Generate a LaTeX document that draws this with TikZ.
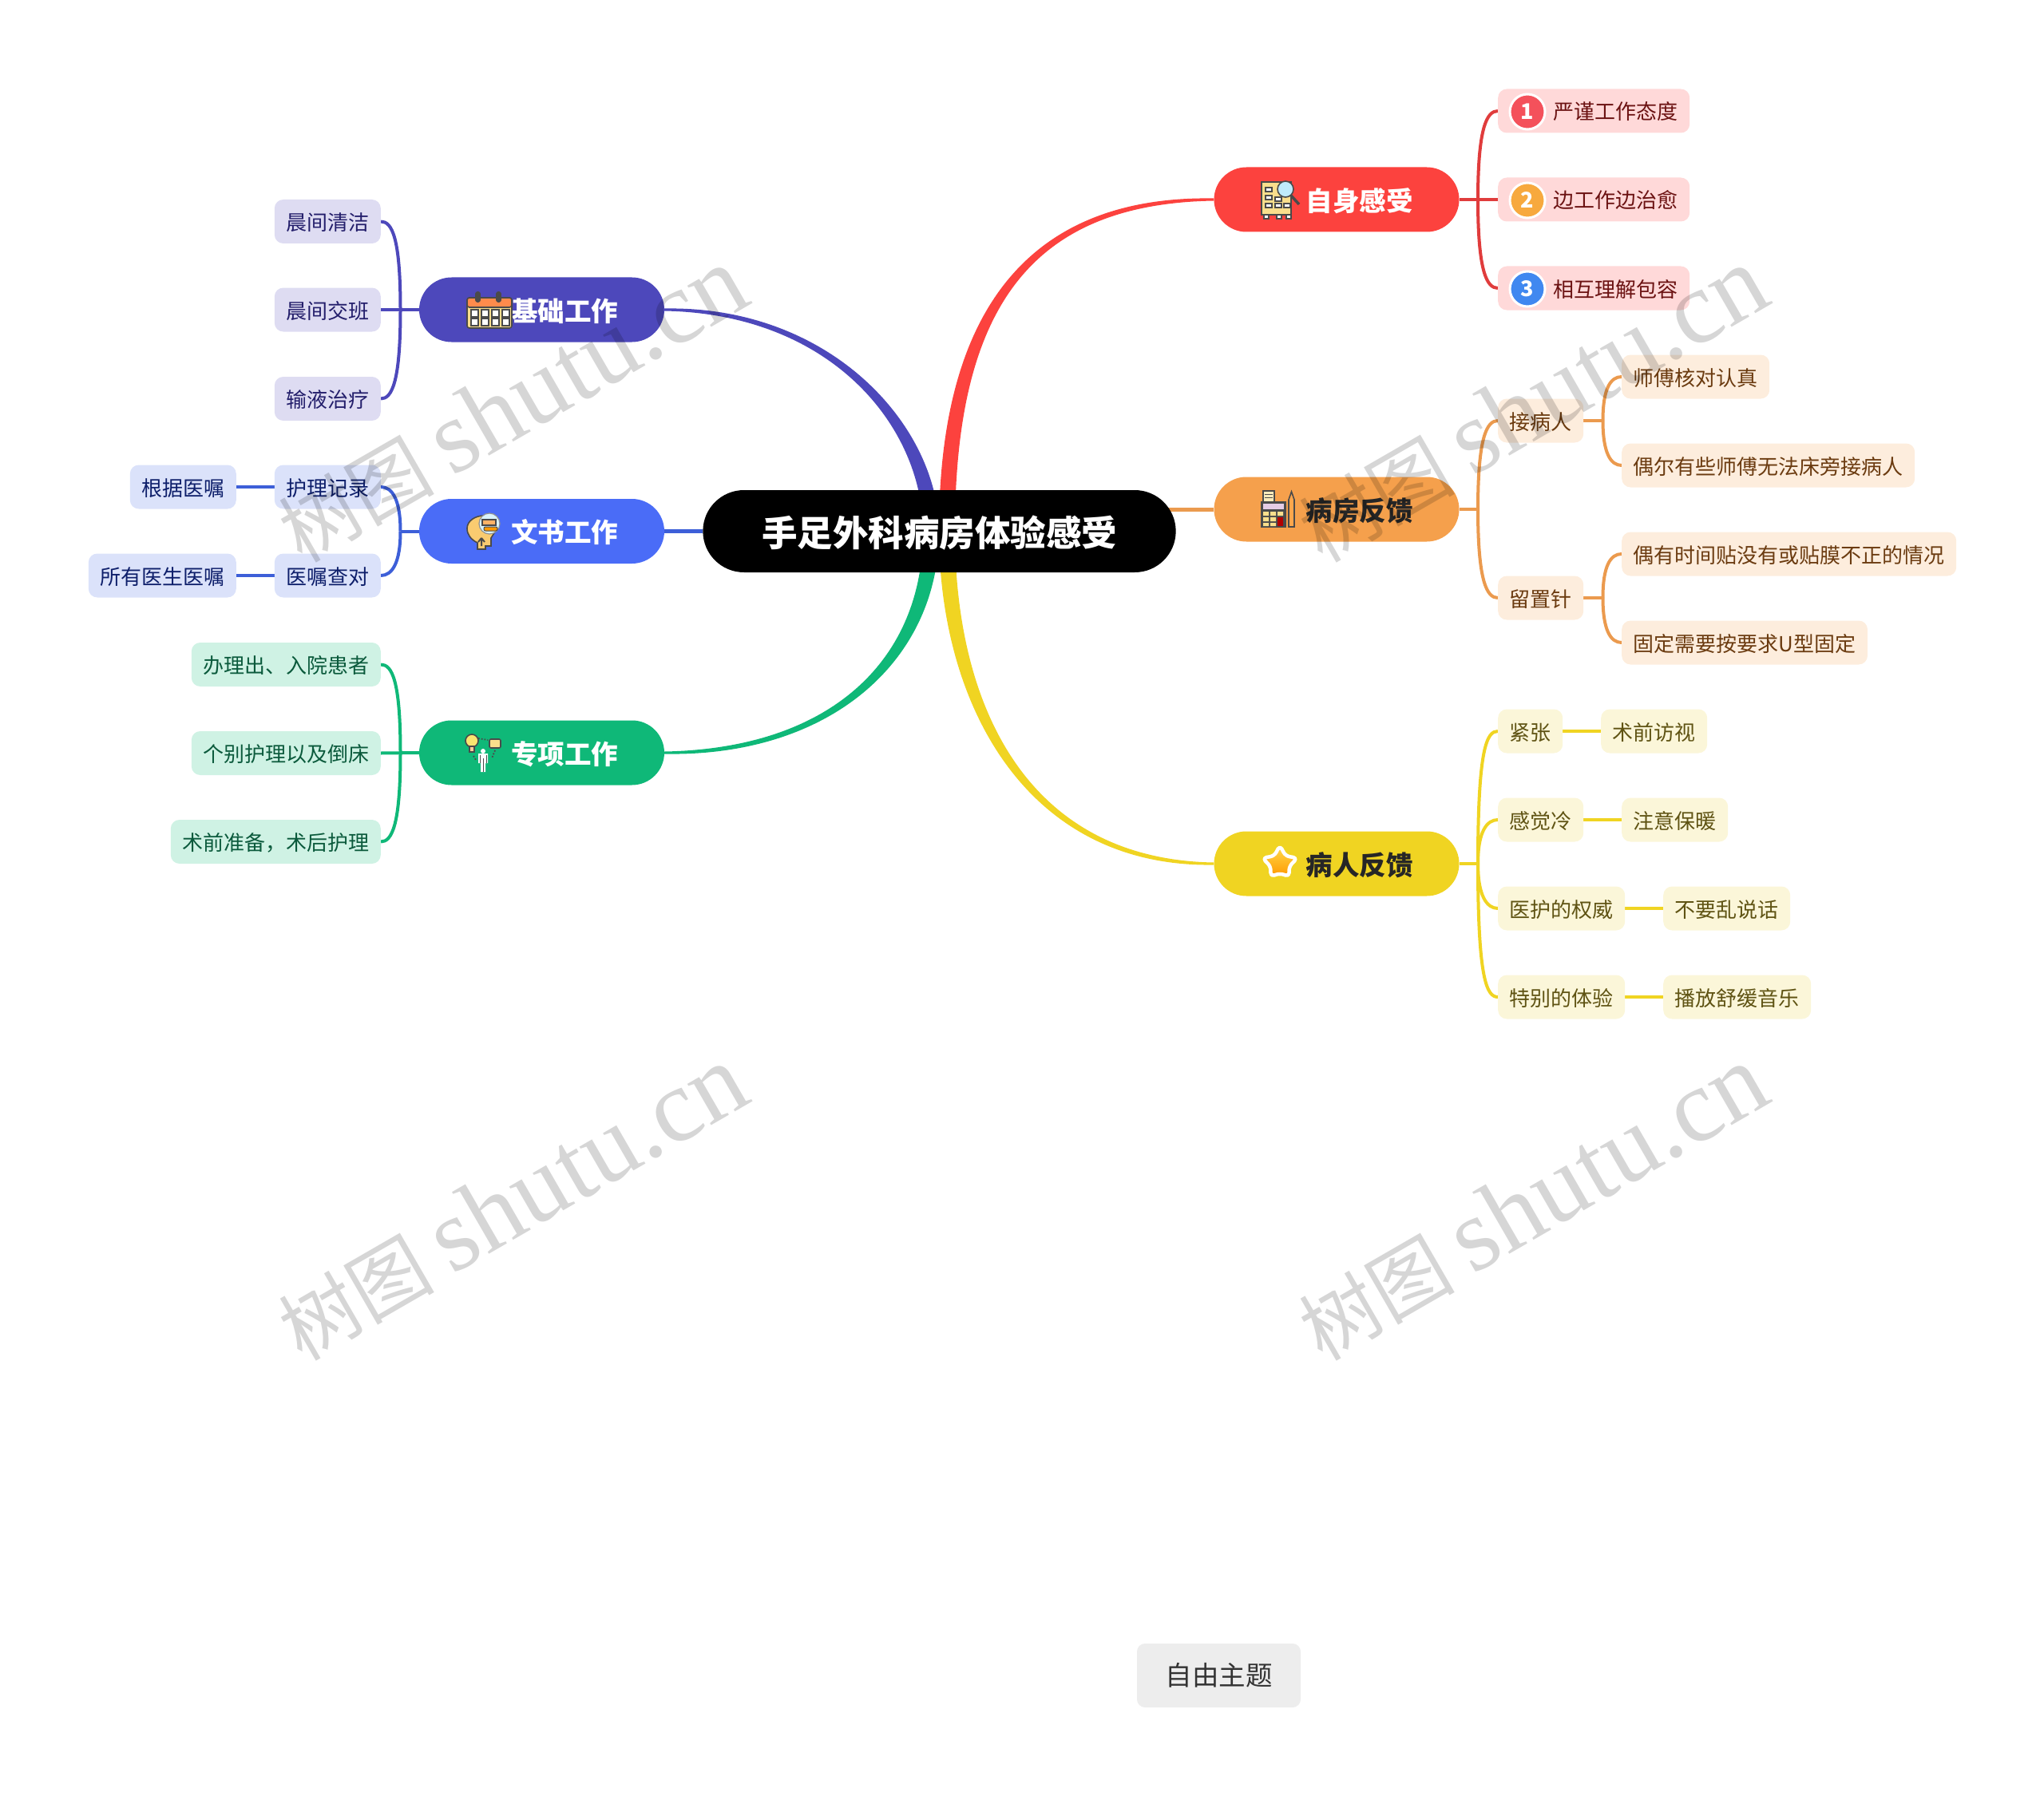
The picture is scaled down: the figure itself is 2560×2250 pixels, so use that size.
\documentclass[tikz,border=0pt]{standalone}
\usepackage{fontspec}
\setmainfont{Noto Sans CJK SC}
\newfontfamily\wmlatin{Liberation Serif}
\usepackage{xcolor}
\definecolor{redmain}{HTML}{FC423E}
\definecolor{redline}{HTML}{E03C3C}
\definecolor{redsub}{HTML}{FFD9D9}
\definecolor{redtext}{HTML}{6B1212}
\definecolor{orgmain}{HTML}{F5A04C}
\definecolor{orgline}{HTML}{EB9A4E}
\definecolor{orgsub}{HTML}{FDEDDD}
\definecolor{orgtext}{HTML}{6B3B10}
\definecolor{yelmain}{HTML}{F0D422}
\definecolor{yelsub}{HTML}{FBF6D9}
\definecolor{yeltext}{HTML}{5F5313}
\definecolor{vltmain}{HTML}{4D48BB}
\definecolor{vltsub}{HTML}{DEDCF2}
\definecolor{vlttext}{HTML}{231E6B}
\definecolor{blumain}{HTML}{4A6CF7}
\definecolor{bluline}{HTML}{3D5FD8}
\definecolor{blusub}{HTML}{DBE2FA}
\definecolor{blutext}{HTML}{0E1F6B}
\definecolor{grnmain}{HTML}{0FB878}
\definecolor{grnsub}{HTML}{CFF2E4}
\definecolor{grntext}{HTML}{0B5A3C}
\definecolor{icondark}{HTML}{4A4A4A}
\definecolor{iconyel}{HTML}{F9DE8C}
\definecolor{numred}{HTML}{F4515B}
\definecolor{numorg}{HTML}{F7A93E}
\definecolor{numblu}{HTML}{4088F0}
\usetikzlibrary{shapes.misc, calc, backgrounds}
\tikzset{
  rootnode/.style={
    rounded rectangle, fill=black, text=white,
    minimum width=599pt, minimum height=103pt,
    text height=37pt, text depth=0pt,
    font=\fontsize{44.5}{50}\selectfont\bfseries
  },
  mainnode/.style={
    rounded rectangle, inner sep=0pt,
    minimum width=307pt, minimum height=81pt,
    text height=28.5pt, text depth=0pt,
    font=\fontsize{33.5}{38}\selectfont\bfseries
  },
  subnode/.style={
    rectangle, rounded corners=11pt, inner xsep=14.5pt, inner ysep=0pt,
    minimum height=55pt, text height=22pt, text depth=0pt,
    font=\fontsize{26}{30}\selectfont
  },
  numdot/.style={
    circle, draw=white, line width=3pt, inner sep=0pt, minimum size=44pt,
    text=white, font=\fontsize{27}{30}\selectfont\bfseries
  },
  freenode/.style={
    rectangle, rounded corners=10pt, fill=black!7, text=black!80,
    minimum width=205pt, minimum height=80pt,
    font=\fontsize{33.5}{38}\selectfont
  },
  watermark/.style={
    rotate=30, text=black, text opacity=0.16, inner sep=0pt,
    font=\fontsize{98}{130}\selectfont
  },
  branch/.style={line width=4pt},
  iconline/.style={draw=icondark, line width=1.6pt},
  calicon/.pic={
    \draw[iconline, fill=iconyel, rounded corners=3pt] (-28,-16) rectangle (28,22);
    \draw[iconline, fill=orange!70!red!70, rounded corners=3pt] (-28,-16) rectangle (28,-4);
    \draw[iconline, fill=icondark, rounded corners=2pt] (-17,-23) rectangle (-12,-11) (9,-23) rectangle (14,-11);
    \draw[iconline, fill=white, line width=1.2pt]
      (-23,-1) rectangle +(9,9) (-10,-1) rectangle +(9,9) (3,-1) rectangle +(9,9) (16,-1) rectangle +(9,9)
      (-23,10) rectangle +(9,9) (-10,10) rectangle +(9,9) (3,10) rectangle +(9,9) (16,10) rectangle +(9,9);
  },
  bldicon/.pic={
    \draw[iconline, fill=iconyel] (-23,-22) rectangle (14,19);
    \draw[iconline, fill=white, line width=1.2pt]
      (-18,-15) rectangle +(8,5) (-18,-5) rectangle +(8,5) (-18,5) rectangle +(8,5)
      (-6,5) rectangle +(8,5) (5,5) rectangle +(8,5) (-6,-3) rectangle +(8,5);
    \draw[iconline, fill=white, line width=1.2pt]
      (-20,19) rectangle +(6,5) (-4,19) rectangle +(6,5) (8,19) rectangle +(6,5);
    \draw[icondark, line width=3.5pt] (14,-5) -- (24,6);
    \draw[iconline, fill=cyan!25] (7,-13) circle (10pt);
  },
  calcicon/.pic={
    \draw[iconline, fill=iconyel!60] (-19,-23) rectangle (-5,-9);
    \draw[icondark, line width=1pt] (-17,-19) -- (-7,-19) (-17,-15) -- (-7,-15);
    \draw[iconline, fill=icondark] (-21,-9) rectangle (9,22);
    \fill[violet!20] (-19,-7) rectangle (7,0);
    \fill[iconyel] (-19,3) rectangle +(7,5) (-10,3) rectangle +(7,5) (-1,3) rectangle +(7,5)
      (-19,10) rectangle +(7,5) (-10,10) rectangle +(7,5)
      (-19,17) rectangle +(7,4) (-10,17) rectangle +(7,4);
    \fill[red!70!black] (-1,10) rectangle (6,21);
    \draw[iconline, fill=orange!70] (13,-12) -- (16.5,-22) -- (20,-12) -- (20,22) -- (13,22) -- cycle;
  },
  headicon/.pic={
    \draw[iconline, fill=iconyel!80!orange] (-8,22) -- (-8,14) .. controls (-16,10) and (-21,4) .. (-21,-4)
      .. controls (-21,-14) and (-10,-20) .. (0,-20) .. controls (10,-20) and (14,-10) .. (14,0)
      -- (9,8) -- (9,18) -- (2,18) -- (2,22) -- cycle;
    \draw[icondark, line width=2pt] (-3,18) -- (-3,9) (-7,13) -- (-3,8) (1,13) -- (-3,8);
    \draw[draw=icondark!60, line width=1.2pt, fill=cyan!15] (7,-10) circle (13pt);
    \draw[iconline, fill=orange!60, line width=1.1pt] (-2,-15) rectangle (15,-8);
    \draw[iconline, fill=orange!80!yellow, line width=1pt, rounded corners=2pt] (0,-6) rectangle (17,-1);
  },
  bulbicon/.pic={
    \draw[iconline, fill=iconyel!80!yellow] (-15,-15) circle (8pt);
    \draw[iconline, fill=white!60!orange, line width=1.2pt] (-18,-8) rectangle (-12,-1);
    \draw[iconline, fill=iconyel, rounded corners=2pt] (7,-17) rectangle (21,-6);
    \draw[icondark, dotted, line width=1.8pt] (-7,-18) -- (5,-16) (14,-3) -- (10,7) (-13,4) -- (-10,9);
    \fill[white] (-1,-2) circle (3pt) (-7,1) rectangle (5,13) (-4,13) rectangle (2,24);
    \draw[icondark, line width=1pt] (-1,7) -- (-1,24) (-5,3) -- (-5,13) (3,3) -- (3,13);
  },
  starshape/.pic={
    \draw[draw=white, line width=4.5pt, line join=round, rounded corners=5pt, top color=yellow!60!orange!70, bottom color=orange!80!yellow]
      (-90:23) -- (-54:12) -- (-18:23) -- (18:12) -- (54:20) -- (90:12) -- (126:20) -- (162:12) -- (198:23) -- (234:12) -- cycle;
  },
}
\newcommand{\taper}[7]{
  \fill[#1] ($(#2)+(0,#6)$) .. controls +($(#4)+(0,2.5*#6)$) and +(#5) .. ($(#3)+(#7,0)$)
    -- ($(#3)+(-#7,0)$) .. controls +(#5) and +($(#4)+(0,-2.5*#6)$) .. ($(#2)+(0,-#6)$) -- cycle;
}
\newcommand{\hook}[5]{
  \draw[branch, #1] (#2) .. controls +(0,#4) and +(#5,0) .. (#3);
}
\begin{document}
\begin{tikzpicture}[x=1pt,y=-1pt]
  \useasboundingbox (0,0) rectangle (2560,2250);
  \node (root) [rootnode] at (1176.5,665.5) {手足外科病房体验感受};
  \coordinate (rootL) at (1166,665.5);
  \coordinate (rootR) at (1186,665.5);

  % left side
  \node (jichu)  [mainnode, fill=vltmain, text=white] at (678.5,388) {\hspace*{57pt}基础工作};
  \node (wenshu) [mainnode, fill=blumain, text=white] at (678.5,665.5) {\hspace*{57pt}文书工作};
  \node (zhuan)  [mainnode, fill=grnmain, text=white] at (678.5,943) {\hspace*{57pt}专项工作};
  \node (qing) [subnode, fill=vltsub, text=vlttext, anchor=east] at (477,277.5) {晨间清洁};
  \node (jiao) [subnode, fill=vltsub, text=vlttext, anchor=east] at (477,388) {晨间交班};
  \node (shu)  [subnode, fill=vltsub, text=vlttext, anchor=east] at (477,499.5) {输液治疗};
  \node (hul)  [subnode, fill=blusub, text=blutext, anchor=east] at (477,610) {护理记录};
  \node (yiz)  [subnode, fill=blusub, text=blutext, anchor=east] at (477,721) {医嘱查对};
  \node (genj) [subnode, fill=blusub, text=blutext, anchor=east] at (296,610) {根据医嘱};
  \node (suoy) [subnode, fill=blusub, text=blutext, anchor=east] at (296,721) {所有医生医嘱};
  \node (banl) [subnode, fill=grnsub, text=grntext, anchor=east] at (477,832.5) {办理出、入院患者};
  \node (gebi) [subnode, fill=grnsub, text=grntext, anchor=east] at (477,943.5) {个别护理以及倒床};
  \node (shuq) [subnode, fill=grnsub, text=grntext, anchor=east] at (477,1054.5) {术前准备，术后护理};

  % right side
  \node (zishen) [mainnode, fill=redmain, text=white] at (1674,250) {\hspace*{57pt}自身感受};
  \node (bfang)  [mainnode, fill=orgmain, text=black!85] at (1674,638) {\hspace*{57pt}病房反馈};
  \node (bren)   [mainnode, fill=yelmain, text=black!85] at (1674,1082) {\hspace*{57pt}病人反馈};
  \node (yanj)  [subnode, fill=redsub, text=redtext, anchor=west] at (1876,139) {\hspace*{55pt}严谨工作态度};
  \node (bian)  [subnode, fill=redsub, text=redtext, anchor=west] at (1876,250) {\hspace*{55pt}边工作边治愈};
  \node (xiang) [subnode, fill=redsub, text=redtext, anchor=west] at (1876,361) {\hspace*{55pt}相互理解包容};
  \node (num1)  [numdot, fill=numred] at (1913,140) {1};
  \node (num2)  [numdot, fill=numorg] at (1913,251) {2};
  \node (num3)  [numdot, fill=numblu] at (1913,362) {3};
  \node (jie)   [subnode, fill=orgsub, text=orgtext, anchor=west] at (1876,527) {接病人};
  \node (shif)  [subnode, fill=orgsub, text=orgtext, anchor=west] at (2031,472) {师傅核对认真};
  \node (ouer)  [subnode, fill=orgsub, text=orgtext, anchor=west] at (2031,583) {偶尔有些师傅无法床旁接病人};
  \node (liu)   [subnode, fill=orgsub, text=orgtext, anchor=west] at (1876,749) {留置针};
  \node (ouyou) [subnode, fill=orgsub, text=orgtext, anchor=west] at (2031,694) {偶有时间贴没有或贴膜不正的情况};
  \node (guding)[subnode, fill=orgsub, text=orgtext, anchor=west] at (2031,805) {固定需要按要求U型固定};
  \node (jinz)  [subnode, fill=yelsub, text=yeltext, anchor=west] at (1876,916) {紧张};
  \node (fangs) [subnode, fill=yelsub, text=yeltext, anchor=west] at (2005,916) {术前访视};
  \node (leng)  [subnode, fill=yelsub, text=yeltext, anchor=west] at (1876,1027) {感觉冷};
  \node (baon)  [subnode, fill=yelsub, text=yeltext, anchor=west] at (2031,1027) {注意保暖};
  \node (quanw) [subnode, fill=yelsub, text=yeltext, anchor=west] at (1876,1138) {医护的权威};
  \node (luan)  [subnode, fill=yelsub, text=yeltext, anchor=west] at (2083,1138) {不要乱说话};
  \node (tebie) [subnode, fill=yelsub, text=yeltext, anchor=west] at (1876,1249) {特别的体验};
  \node (yiny)  [subnode, fill=yelsub, text=yeltext, anchor=west] at (2083,1249) {播放舒缓音乐};

  \node (ziyou) [freenode] at (1526.5,2099) {自由主题};

  \coordinate (jichuM) at (501.5,388);
  \coordinate (wenshuM) at (501.5,665.5);
  \coordinate (zhuanM) at (501.5,943);
  \coordinate (zishenM) at (1851,250);
  \coordinate (bfangM) at (1851,638);
  \coordinate (brenM) at (1851,1082);
  \coordinate (jieM) at (2007.5,527);
  \coordinate (liuM) at (2007.5,749);

  \begin{pgfonlayer}{background}
    \taper{vltmain}{jichu.east}{rootL}{210,0}{0,-130}{-1.5}{10}
    \taper{grnmain}{zhuan.east}{rootL}{210,0}{0,160}{1.5}{10}
    \taper{redmain}{zishen.west}{rootR}{-225,0}{0,-285}{-1.5}{-10}
    \taper{yelmain}{bren.west}{rootR}{-236,0}{0,216}{1.5}{-10}
    \draw [bluline, line width=5pt] (wenshu.east) -- (root.west);
    \draw [orgline, line width=5pt] (root.center |- bfang.west) -- (bfang.west);

    \draw [branch, vltmain] (jichu.west) -- (jiao.east);
    \hook{vltmain}{jichuM}{qing.east}{-90}{14}
    \hook{vltmain}{jichuM}{shu.east}{90}{14}
    \draw [branch, bluline] (wenshu.west) -- (wenshuM);
    \hook{bluline}{wenshuM}{hul.east}{-40}{14}
    \hook{bluline}{wenshuM}{yiz.east}{40}{14}
    \draw [branch, bluline] (hul.west) -- (genj.east);
    \draw [branch, bluline] (yiz.west) -- (suoy.east);
    \draw [branch, grnmain] (zhuan.west) -- (gebi.east);
    \hook{grnmain}{zhuanM}{banl.east}{-90}{14}
    \hook{grnmain}{zhuanM}{shuq.east}{90}{14}

    \draw [branch, redline] (zishen.east) -- (bian.west);
    \hook{redline}{zishenM}{yanj.west}{-90}{-14}
    \hook{redline}{zishenM}{xiang.west}{90}{-14}
    \draw [branch, orgline] (bfang.east) -- (bfangM);
    \hook{orgline}{bfangM}{jie.west}{-90}{-14}
    \hook{orgline}{bfangM}{liu.west}{90}{-14}
    \draw [branch, orgline] (jie.east) -- (jieM);
    \hook{orgline}{jieM}{shif.west}{-40}{-14}
    \hook{orgline}{jieM}{ouer.west}{40}{-14}
    \draw [branch, orgline] (liu.east) -- (liuM);
    \hook{orgline}{liuM}{ouyou.west}{-40}{-14}
    \hook{orgline}{liuM}{guding.west}{40}{-14}
    \draw [branch, yelmain] (bren.east) -- (brenM);
    \hook{yelmain}{brenM}{jinz.west}{-145}{-14}
    \hook{yelmain}{brenM}{leng.west}{-40}{-14}
    \hook{yelmain}{brenM}{quanw.west}{40}{-14}
    \hook{yelmain}{brenM}{tebie.west}{145}{-14}
    \draw [branch, yelmain] (jinz.east) -- (fangs.west);
    \draw [branch, yelmain] (leng.east) -- (baon.west);
    \draw [branch, yelmain] (quanw.east) -- (luan.west);
    \draw [branch, yelmain] (tebie.east) -- (yiny.west);
  \end{pgfonlayer}

  % icons
  \pic at (613,389) {calicon};
  \pic at (606,666) {headicon};
  \pic at (606,943) {bulbicon};
  \pic at (1603,250) {bldicon};
  \pic at (1601,638) {calcicon};
  \pic at (1603,1082) {starshape};

  % watermarks
  \node (wm1) [watermark] at (641,507) {树图 {\wmlatin\fontsize{130}{140}\selectfont shutu.cn}};
  \node (wm2) [watermark] at (1919,507) {树图 {\wmlatin\fontsize{130}{140}\selectfont shutu.cn}};
  \node (wm3) [watermark] at (641,1507) {树图 {\wmlatin\fontsize{130}{140}\selectfont shutu.cn}};
  \node (wm4) [watermark] at (1919,1507) {树图 {\wmlatin\fontsize{130}{140}\selectfont shutu.cn}};
\end{tikzpicture}
\end{document}
